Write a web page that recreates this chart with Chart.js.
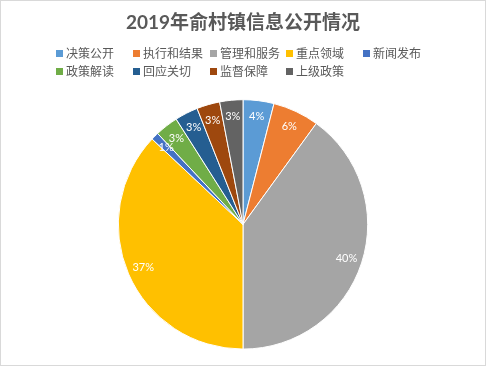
<!DOCTYPE html>
<html>
<head>
<meta charset="utf-8">
<script src="https://cdn.jsdelivr.net/npm/chart.js@4/dist/chart.umd.min.js"></script>
<style>
  html, body { margin: 0; padding: 0; background: #fff; }
  #wrap { width: 487px; height: 366px; }
</style>
</head>
<body>
<div id="wrap"><canvas id="c" width="487" height="366"></canvas></div>
<script>
// ---- data ----
const chartTitle = '2019年俞村镇信息公开情况';
const categories = ['决策公开', '执行和结果', '管理和服务', '重点领域', '新闻发布', '政策解读', '回应关切', '监督保障', '上级政策'];
const shares = [4, 6, 40, 37, 1, 3, 3, 3, 3];
const sliceColors = ['#5B9BD5', '#ED7D31', '#A5A5A5', '#FFC000', '#4472C4', '#70AD47', '#255E91', '#9E480E', '#636363'];

// ---- layout constants ----
const CJK = '"Noto Sans CJK SC", sans-serif';
const LATIN = 'Lato, "Noto Sans CJK SC", sans-serif';
const legendLeft = 56, legendTop = 53.5, legendColWidth = 76.8, legendRowHeight = 17.6, legendCols = 5;

const frame = {
  id: 'frame',
  beforeDraw(chart) {
    const ctx = chart.ctx;
    ctx.save();
    ctx.fillStyle = '#ffffff';
    ctx.fillRect(0, 0, chart.width, chart.height);
    ctx.strokeStyle = '#D9D9D9';
    ctx.lineWidth = 1;
    ctx.strokeRect(0.5, 0.5, 485, 365);
    ctx.restore();
  }
};

const gridLegend = {
  id: 'gridLegend',
  afterDraw(chart) {
    const ctx = chart.ctx;
    const colors = chart.data.datasets[0].backgroundColor;
    ctx.save();
    ctx.font = '12px ' + CJK;
    ctx.textBaseline = 'middle';
    ctx.textAlign = 'left';
    chart.data.labels.forEach((name, i) => {
      const row = Math.floor(i / legendCols), col = i % legendCols;
      const x = Math.round(legendLeft + col * legendColWidth);
      const y = legendTop + row * legendRowHeight;
      ctx.fillStyle = colors[i];
      ctx.fillRect(x, Math.round(y - 3.5), 7, 7);
      ctx.fillStyle = '#595959';
      ctx.fillText(name, x + 10, y);
    });
    ctx.restore();
  }
};

const sliceLabels = {
  id: 'sliceLabels',
  afterDatasetsDraw(chart) {
    const ctx = chart.ctx;
    const meta = chart.getDatasetMeta(0);
    const values = chart.data.datasets[0].data;
    const total = values.reduce((a, b) => a + b, 0);
    ctx.save();
    ctx.font = '11px ' + LATIN;
    ctx.fillStyle = '#ffffff';
    ctx.textAlign = 'center';
    ctx.textBaseline = 'middle';
    meta.data.forEach((arc, i) => {
      const p = arc.getProps(['x', 'y', 'startAngle', 'endAngle', 'outerRadius'], true);
      const mid = (p.startAngle + p.endAngle) / 2;
      const r = p.outerRadius * 0.872;
      const pct = Math.round(values[i] / total * 100) + '%';
      ctx.fillText(pct, p.x + Math.cos(mid) * r, p.y + Math.sin(mid) * r);
    });
    ctx.restore();
  }
};

new Chart(document.getElementById('c'), {
  type: 'pie',
  data: {
    labels: categories,
    datasets: [{
      data: shares,
      backgroundColor: sliceColors,
      borderColor: '#ffffff',
      borderWidth: 1
    }]
  },
  options: {
    responsive: false,
    devicePixelRatio: 1,
    animation: false,
    layout: { padding: { top: 0, bottom: 16.4, left: 0, right: 1 } },
    plugins: {
      legend: { display: false },
      tooltip: { enabled: false },
      title: {
        display: true,
        text: chartTitle,
        color: '#595959',
        font: { family: LATIN, size: 19, weight: 'bold', lineHeight: 1.2 },
        padding: { top: 11.2, bottom: 65.2 }
      }
    }
  },
  plugins: [frame, gridLegend, sliceLabels]
});
</script>
</body>
</html>
